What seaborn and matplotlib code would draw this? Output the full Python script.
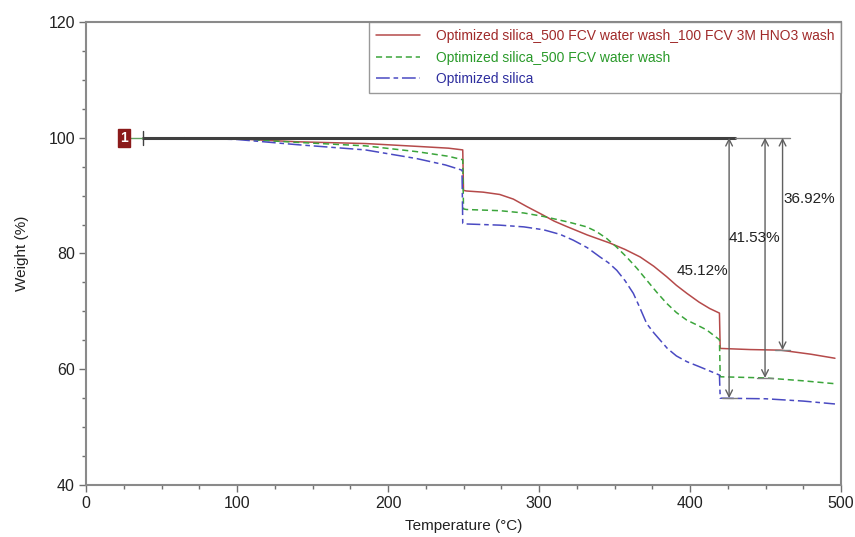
import matplotlib
matplotlib.use("Agg")
import matplotlib.pyplot as plt
import seaborn as sns
import pandas as pd
from matplotlib.ticker import MultipleLocator

sns.set_theme(style="white")
plt.rcParams['font.family'] = ['Liberation Sans', 'DejaVu Sans']

# ---- data ----
labels = ["Optimized silica_500 FCV water wash_100 FCV 3M HNO3 wash",
          "Optimized silica_500 FCV water wash",
          "Optimized silica"]

red_t = [65, 100, 140, 185, 220, 240, 249.5, 250, 252, 263, 274, 283, 292, 303, 310, 318, 332, 347,
         357, 367, 376, 384.5, 391, 398, 406, 413, 419.5, 420, 440, 460, 480, 496]
red_w = [100, 99.8, 99.3, 99.0, 98.5, 98.2, 97.9, 90.9, 90.8, 90.6, 90.2, 89.4, 88.1, 86.6, 85.6, 84.7,
         83.2, 81.8, 80.7, 79.4, 77.8, 76.0, 74.5, 73.1, 71.6, 70.5, 69.7, 63.6, 63.4, 63.3, 62.6, 61.9]

green_t = [65, 100, 140, 185, 219, 240, 249.5, 250, 252, 274, 290, 303, 320, 331.6, 338, 344.8, 351,
           358, 365, 371.3, 378, 384.5, 391, 397.8, 405, 411, 419.5, 420, 450, 475, 496]
green_w = [100, 99.8, 99.2, 98.6, 97.6, 96.8, 96.2, 87.7, 87.6, 87.4, 87.0, 86.4, 85.4, 84.6, 83.8, 82.6,
           81.2, 79.4, 77.4, 75.4, 73.3, 71.4, 69.8, 68.5, 67.6, 66.8, 65.1, 58.7, 58.5, 58.0, 57.5]

blue_t = [65, 100, 140, 185, 219, 238, 249, 249.5, 252, 274, 290, 303, 314, 322.7, 332, 340.4, 346, 351.5,
          357, 362.5, 367, 371.3, 376, 380, 385, 391, 398, 406.6, 419.5, 420, 450, 475, 496]
blue_w = [99.9, 99.7, 98.8, 97.9, 96.4, 95.3, 94.4, 85.2, 85.1, 84.9, 84.6, 84.1, 83.3, 82.3, 81.0, 79.4,
          78.4, 77.1, 75.3, 73.1, 70.5, 67.9, 66.3, 65.1, 63.6, 62.3, 61.3, 60.4, 59.0, 55.0, 54.9, 54.5, 54.0]

xticks = [0, 100, 200, 300, 400, 500]
yticks = [40, 60, 80, 100, 120]

steps = [(425.9, 55.0, "45.12%", 408.3, 76.9),
         (449.7, 58.5, "41.53%", 442.4, 82.6),
         (461.3, 63.3, "36.92%", 479.0, 89.5)]

colors = ["#b54a4a", "#3ba53b", "#4a4ac2"]
text_colors = ["#a02a2a", "#2a9a2a", "#2e2e9e"]

# ---- figure ----
fig = plt.figure(figsize=(8.55, 5.37), dpi=100)
ax = fig.add_axes([86/855, 1-485/537, (841-86)/855, (485-22)/537])

series = [(red_t, red_w), (green_t, green_w), (blue_t, blue_w)]
styles = ["-", (0, (4, 2.5)), (0, (9, 2.5, 3, 2.5))]
for (t, w), lab, c, ls in zip(series, labels, colors, styles):
    df = pd.DataFrame({"Temperature": t, "Weight": w})
    sns.lineplot(data=df, x="Temperature", y="Weight", ax=ax, estimator=None, sort=False,
                 color=c, linewidth=1.1, linestyle=ls, label=lab)

# reference line at 100 %
ax.plot([37.7, 430], [100, 100], color="#404040", lw=2.2, zorder=5)
ax.plot([430, 466], [100, 100], color="#808080", lw=1.0, zorder=5)
ax.plot([25, 37.7], [100, 100], color="#60a060", lw=1.0, zorder=5)
ax.plot([37.7, 37.7], [98.8, 101.2], color="#404040", lw=1.0, zorder=6)
ax.text(25, 100, "1", color="white", fontsize=10, fontweight="bold", ha="center", va="center",
        zorder=7, bbox=dict(boxstyle="square,pad=0.15", fc="#8b1a1a", ec="#8b1a1a"))

for x, ylow, txt, tx, ty in steps:
    ax.annotate("", xy=(x, ylow), xytext=(x, 100),
                arrowprops=dict(arrowstyle="<->", color="#606060", lw=1.0,
                                shrinkA=0, shrinkB=0), zorder=6)
    ax.plot([x - 5, x + 5], [ylow, ylow], color="#808080", lw=1.0, zorder=6)
    ax.text(tx, ty, txt, fontsize=11, color="#222222", ha="center", va="center", zorder=7)

ax.set_xlim(0, 500)
ax.set_ylim(40, 120)
ax.set_xticks(xticks)
ax.set_yticks(yticks)
ax.xaxis.set_minor_locator(MultipleLocator(25))
ax.yaxis.set_minor_locator(MultipleLocator(5))
ax.tick_params(axis="both", which="major", direction="out", length=5, width=1,
               color="#707070", labelsize=11.5, labelcolor="#222222", pad=3)
ax.tick_params(axis="both", which="minor", direction="out", length=3, width=1, color="#707070")
ax.tick_params(axis="x", which="both", bottom=True)
ax.tick_params(axis="y", which="both", left=True)
for s in ax.spines.values():
    s.set_color("#8a8a8a")
    s.set_linewidth(1.5)
    s.set_visible(True)

ax.set_xlabel("Temperature (°C)", fontsize=11, color="#222222", labelpad=6)
ax.set_ylabel("Weight (%)", fontsize=11, color="#222222", labelpad=14)

handles, labs = ax.get_legend_handles_labels()
leg = ax.legend(handles, labs, loc="upper right", borderaxespad=0, fontsize=10,
                frameon=True, fancybox=False, handlelength=3.2, handletextpad=1.1,
                labelspacing=0.55, borderpad=0.5)
leg.get_frame().set_edgecolor("#808080")
leg.get_frame().set_linewidth(1.0)
for txt, c in zip(leg.get_texts(), text_colors):
    txt.set_color(c)

fig.savefig("out.png", dpi=100)
